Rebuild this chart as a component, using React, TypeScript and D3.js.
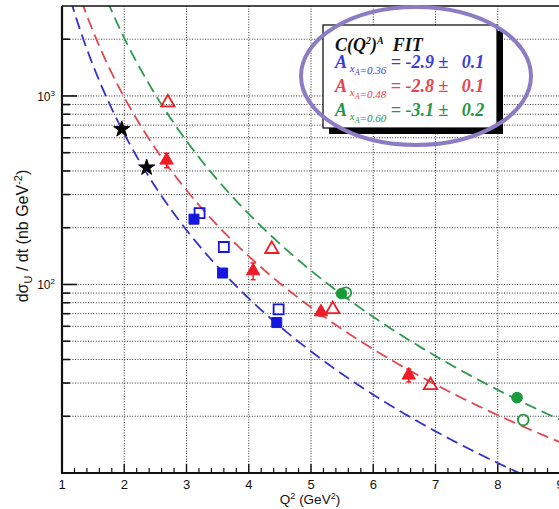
import * as d3 from 'd3'

// fit C(Q^2)^A per x_A bin
const fitNames = ['0.36', '0.48', '0.60']
const fitA = [-2.9, -2.8, -3.1]
const fitAErr = [0.1, 0.1, 0.2]
const fitC = [4700, 6850, 17400]
const fitColors = ['#3434c8', '#e2474f', '#2b9a4b']
const textColors = ['#3a3ae0', '#e8434f', '#23954a']

// x_A = 0.36 (blue)
const blueFilledQ2 = [3.12, 3.58, 4.45]
const blueFilledXs = [222, 115, 62.8]
const blueOpenQ2 = [3.21, 3.6, 4.48]
const blueOpenXs = [239, 158, 73.8]
const starQ2 = [1.96, 2.36]
const starXs = [666, 417]

// x_A = 0.48 (red)
const redFilledQ2 = [2.68, 4.07, 5.16, 6.57]
const redFilledXs = [456, 118, 71.5, 33.0]
const redFilledErr = [40, 12, 3.5, 2.6]
const redOpenQ2 = [2.7, 4.37, 5.35, 6.92]
const redOpenXs = [923, 154, 73.8, 29.2]

// x_A = 0.60 (green)
const greenFilledQ2 = [5.49, 8.31]
const greenFilledXs = [89.5, 25.1]
const greenOpenQ2 = [5.56, 8.41]
const greenOpenXs = [90.5, 19.1]

const xTicks = [1, 2, 3, 4, 5, 6, 7, 8, 9]
const yMajor = [100, 1000]
const yMinor = [20, 30, 40, 50, 60, 70, 80, 90, 200, 300, 400, 500, 600, 700, 800, 900, 2000]

const W = 559
const H = 509
const SANS = 'Liberation Sans, Arial, sans-serif'
const SERIF = 'Liberation Serif, Times New Roman, serif'

const BLUE = '#1616e0'
const RED = '#ee1d25'
const GREEN = '#1b9a3b'

export default function App() {
  const x = d3.scaleLinear().domain([1, 9]).range([62, 560])
  const y = d3.scaleLog().domain([10, 3000]).range([473, 6])
  const [left, right] = x.range()
  const [bottom, top] = y.range()

  const xMinor = d3.range(1, 9.001, 0.2).filter((v) => Math.abs(v - Math.round(v)) > 0.01)
  const curveQ2 = d3.range(1, 9.02, 0.02)

  const sq = d3.symbol().type(d3.symbolSquare).size(100)()
  const tri = d3.symbol().type(d3.symbolTriangle).size(78)()
  const circ = d3.symbol().type(d3.symbolCircle).size(90)()
  const star = d3.symbol().type(d3.symbolStar).size(80)()

  const marks = (
    qs: number[],
    vs: number[],
    path: string | null,
    color: string,
    filled: boolean,
    key: string
  ) =>
    qs.map((q, i) => (
      <path
        key={key + i}
        d={path ?? ''}
        transform={`translate(${x(q)},${y(vs[i])})`}
        fill={filled ? color : 'none'}
        stroke={color}
        strokeWidth={filled ? 1 : 1.8}
      />
    ))

  const fitPath = (k: number) =>
    d3
      .line<number>()
      .x((q) => x(q))
      .y((q) => y(fitC[k] * Math.pow(q, fitA[k])))(
      curveQ2.filter((q) => fitC[k] * Math.pow(q, fitA[k]) < 4000)
    ) ?? ''

  return (
    <svg
      width={W}
      height={H}
      style={{ position: 'absolute', left: 0, top: 0, background: '#fff' }}
    >
      <defs>
        <clipPath id="plot">
          <rect x={left} y={top} width={right - left} height={bottom - top} />
        </clipPath>
      </defs>
      <rect width={W} height={H} fill="#fff" />

      {/* grid */}
      {[...yMajor, ...yMinor].map((v) => (
        <line
          key={'gy' + v}
          x1={left}
          x2={right}
          y1={y(v)}
          y2={y(v)}
          stroke="#333"
          strokeWidth={1}
          strokeDasharray="1 1.6"
        />
      ))}
      {xTicks.slice(1, -1).map((v) => (
        <line
          key={'gx' + v}
          x1={x(v)}
          x2={x(v)}
          y1={top}
          y2={bottom}
          stroke="#333"
          strokeWidth={1}
          strokeDasharray="1 1.6"
        />
      ))}

      {/* fit curves */}
      <g clipPath="url(#plot)">
        {fitA.map((a, k) => (
          <path
            key={'fit' + a}
            d={fitPath(k)}
            fill="none"
            stroke={fitColors[k]}
            strokeWidth={1.8}
            strokeDasharray="12 6"
          />
        ))}
      </g>

      {/* error bars */}
      {redFilledQ2.map((q, i) => (
        <g key={'err' + i} stroke={RED} strokeWidth={1.5}>
          <line x1={x(q)} x2={x(q)} y1={y(redFilledXs[i] + redFilledErr[i])} y2={y(redFilledXs[i] - redFilledErr[i])} />
          <line x1={x(q) - 2.5} x2={x(q) + 2.5} y1={y(redFilledXs[i] + redFilledErr[i])} y2={y(redFilledXs[i] + redFilledErr[i])} />
          <line x1={x(q) - 2.5} x2={x(q) + 2.5} y1={y(redFilledXs[i] - redFilledErr[i])} y2={y(redFilledXs[i] - redFilledErr[i])} />
        </g>
      ))}

      {/* markers */}
      {marks(starQ2, starXs, star, '#000', true, 'st')}
      {marks(blueFilledQ2, blueFilledXs, sq, BLUE, true, 'bf')}
      {marks(blueOpenQ2, blueOpenXs, sq, BLUE, false, 'bo')}
      {marks(redFilledQ2, redFilledXs, tri, RED, true, 'rf')}
      {marks(redOpenQ2, redOpenXs, tri, RED, false, 'ro')}
      {marks(greenFilledQ2, greenFilledXs, circ, GREEN, true, 'gf')}
      {marks(greenOpenQ2, greenOpenXs, circ, GREEN, false, 'go')}

      {/* frame */}
      <line x1={left} x2={right} y1={top} y2={top} stroke="#111" strokeWidth={1.5} />
      <line x1={left} x2={right} y1={bottom} y2={bottom} stroke="#111" strokeWidth={2.2} />
      <line x1={left} x2={left} y1={top} y2={bottom + 1} stroke="#111" strokeWidth={2.2} />

      {/* y ticks */}
      {yMajor.map((v) => (
        <line key={'yt' + v} x1={left} x2={left + 15} y1={y(v)} y2={y(v)} stroke="#111" strokeWidth={1.6} />
      ))}
      {yMinor.map((v) => (
        <line key={'ym' + v} x1={left} x2={left + 8} y1={y(v)} y2={y(v)} stroke="#111" strokeWidth={1.6} />
      ))}
      {/* x ticks */}
      {xTicks.map((v) => (
        <line key={'xt' + v} x1={x(v)} x2={x(v)} y1={bottom} y2={bottom - 9} stroke="#111" strokeWidth={1.4} />
      ))}
      {xMinor.map((v) => (
        <line key={'xm' + v} x1={x(v)} x2={x(v)} y1={bottom} y2={bottom - 5} stroke="#111" strokeWidth={1.2} />
      ))}

      {/* tick labels */}
      {xTicks.map((v) => (
        <text key={'xl' + v} x={x(v)} y={bottom + 16} textAnchor="middle" fontFamily={SANS} fontSize={13} fill="#111">
          {v}
        </text>
      ))}
      {yMajor.map((v) => (
        <text key={'yl' + v} x={left - 7} y={y(v) + 5} textAnchor="end" fontFamily={SANS} fontSize={12} fill="#111">
          10
          <tspan fontSize={8} dy={-5}>
            {Math.round(Math.log10(v))}
          </tspan>
        </text>
      ))}

      {/* axis titles */}
      <text x={310} y={504} textAnchor="middle" fontFamily={SANS} fontSize={13.5} fill="#111">
        Q<tspan fontSize={9} dy={-5}>2</tspan>
        <tspan dy={5}> (GeV</tspan>
        <tspan fontSize={9} dy={-5}>2</tspan>
        <tspan dy={5}>)</tspan>
      </text>
      <text
        transform="translate(28,236) rotate(-90)"
        textAnchor="middle"
        fontFamily={SANS}
        fontSize={16}
        fill="#111"
      >
        dσ<tspan fontSize={11} dy={4}>U</tspan>
        <tspan dy={-4}> / dt (nb GeV</tspan>
        <tspan fontSize={11} dy={-6}>-2</tspan>
        <tspan dy={6}>)</tspan>
      </text>

      {/* legend box */}
      <rect x={329} y={31} width={174} height={103} fill="#000" />
      <rect x={323} y={25} width={174} height={103} fill="#fff" stroke="#000" strokeWidth={1.2} />
      <text x={335} y={51} fontFamily={SERIF} fontStyle="italic" fontWeight="bold" fontSize={18} fill="#111">
        C(Q<tspan fontSize={10} dy={-7}>2</tspan>
        <tspan dy={7}>)</tspan>
        <tspan fontSize={10} dy={-7}>A</tspan>
        <tspan dy={7}>{'\u00a0 FIT'}</tspan>
      </text>
      {fitNames.map((nm, k) => (
        <text
          key={'lg' + nm}
          x={335}
          y={68 + k * 24}
          fontFamily={SERIF}
          fontStyle="italic"
          fontWeight="bold"
          fontSize={18}
          fill={textColors[k]}
        >
          A
          <tspan fontSize={11} fontWeight="normal" dy={4}>
            {' x'}
          </tspan>
          <tspan fontSize={8} fontWeight="normal" dy={3}>
            A
          </tspan>
          <tspan fontSize={11} fontWeight="normal" dy={-1}>
            {'=' + nm}
          </tspan>
          <tspan dy={-6}>{` = ${fitA[k].toFixed(1)} \u00b1\u00a0\u00a0 ${fitAErr[k].toFixed(1)}`}</tspan>
        </text>
      ))}

      {/* highlight ellipse */}
      <ellipse cx={416} cy={76} rx={115} ry={69} fill="none" stroke="#8b7cc3" strokeWidth={4} />
    </svg>
  )
}
